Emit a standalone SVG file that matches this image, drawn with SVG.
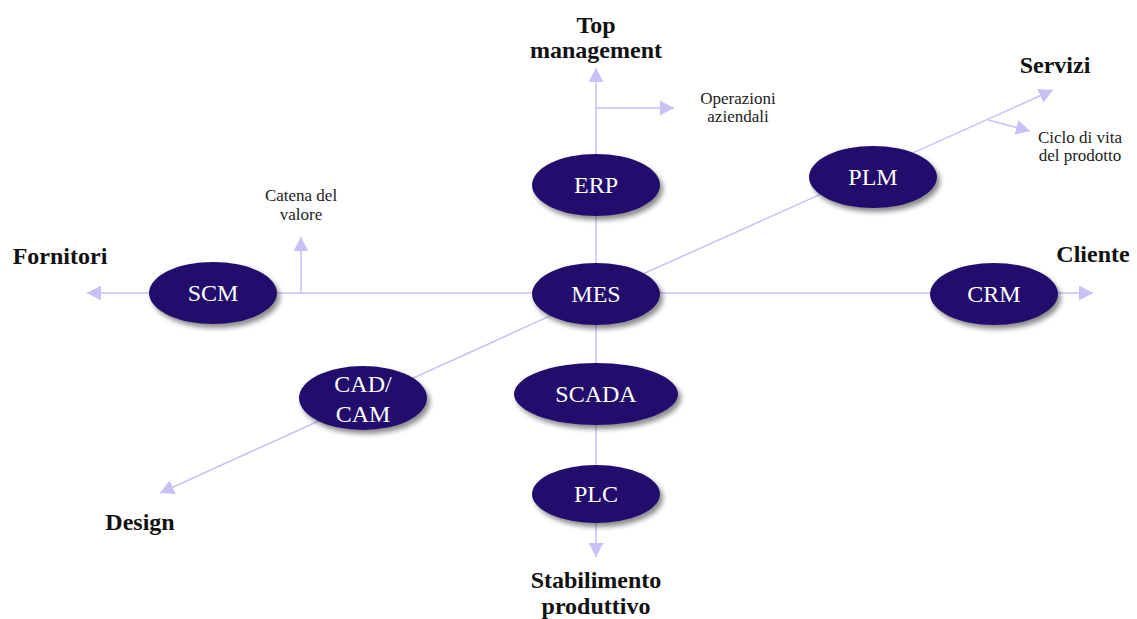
<svg xmlns="http://www.w3.org/2000/svg" width="1137" height="619" viewBox="0 0 1137 619">
  <style>
    .axis { stroke: #c9c1f6; stroke-width: 1.5; fill: none; marker-end: url(#tip); }
    .node ellipse { fill: #24106c; filter: url(#shadow); }
    .node text { fill: #ffffff; font-family: "Liberation Serif", "Times New Roman", serif; font-size: 24px; text-anchor: middle; }
    .pole { fill: #111111; font-family: "Liberation Serif", "Times New Roman", serif; font-size: 24px; font-weight: bold; text-anchor: middle; }
    .note { fill: #222222; font-family: "Liberation Serif", "Times New Roman", serif; font-size: 17px; text-anchor: middle; }
  </style>
  <defs>
    <marker id="tip" markerUnits="userSpaceOnUse" markerWidth="15" markerHeight="15" refX="14" refY="7.5" orient="auto">
      <path d="M0,0 L14,7.5 L0,15 z" fill="#c9c1f6"/>
    </marker>
    <filter id="shadow" x="-20%" y="-30%" width="150%" height="170%">
      <feDropShadow dx="3" dy="4" stdDeviation="2.5" flood-color="#000000" flood-opacity="0.45"/>
    </filter>
  </defs>

  <rect width="1137" height="619" fill="#ffffff"/>

  <!-- connectors: the axes radiating from MES plus the side branches -->
  <g id="connectors">
    <line class="axis" x1="596" y1="294" x2="596" y2="68"/>
    <line class="axis" x1="596" y1="294" x2="596" y2="557"/>
    <line class="axis" x1="596" y1="293" x2="87" y2="293"/>
    <line class="axis" x1="596" y1="293" x2="1093" y2="293"/>
    <line class="axis" x1="596" y1="295" x2="1053" y2="90"/>
    <line class="axis" x1="596" y1="295" x2="160" y2="493"/>
    <line class="axis" x1="596" y1="108" x2="674" y2="108"/>
    <line class="axis" x1="301" y1="293" x2="301" y2="237"/>
    <line class="axis" x1="988" y1="120" x2="1030" y2="131"/>
  </g>

  <!-- axis end labels -->
  <g id="poles">
    <text class="pole" x="596" y="33">Top</text>
    <text class="pole" x="596" y="58">management</text>
    <text class="pole" x="1055" y="73">Servizi</text>
    <text class="pole" x="60" y="264">Fornitori</text>
    <text class="pole" x="1093" y="262">Cliente</text>
    <text class="pole" x="140" y="530">Design</text>
    <text class="pole" x="596" y="588">Stabilimento</text>
    <text class="pole" x="596" y="614">produttivo</text>
  </g>

  <!-- branch notes -->
  <g id="notes">
    <text class="note" x="738" y="104">Operazioni</text>
    <text class="note" x="738" y="122">aziendali</text>
    <text class="note" x="301" y="201">Catena del</text>
    <text class="note" x="301" y="220">valore</text>
    <text class="note" x="1080" y="143">Ciclo di vita</text>
    <text class="note" x="1080" y="161">del prodotto</text>
  </g>

  <!-- system nodes -->
  <g id="node-erp" class="node">
    <ellipse cx="596" cy="185" rx="64" ry="31"/>
    <text x="596" y="193">ERP</text>
  </g>
  <g id="node-plm" class="node">
    <ellipse cx="873" cy="177" rx="64" ry="31"/>
    <text x="873" y="185">PLM</text>
  </g>
  <g id="node-scm" class="node">
    <ellipse cx="213" cy="293" rx="64" ry="31"/>
    <text x="213" y="301">SCM</text>
  </g>
  <g id="node-mes" class="node">
    <ellipse cx="596" cy="294" rx="64" ry="31"/>
    <text x="596" y="302">MES</text>
  </g>
  <g id="node-crm" class="node">
    <ellipse cx="994" cy="294" rx="64" ry="31"/>
    <text x="994" y="302">CRM</text>
  </g>
  <g id="node-cadcam" class="node">
    <ellipse cx="363" cy="398" rx="64" ry="32"/>
    <text x="363" y="392">CAD/</text>
    <text x="363" y="422">CAM</text>
  </g>
  <g id="node-scada" class="node">
    <ellipse cx="596" cy="394" rx="82" ry="31"/>
    <text x="596" y="402">SCADA</text>
  </g>
  <g id="node-plc" class="node">
    <ellipse cx="596" cy="494" rx="64" ry="29"/>
    <text x="596" y="502">PLC</text>
  </g>
</svg>
